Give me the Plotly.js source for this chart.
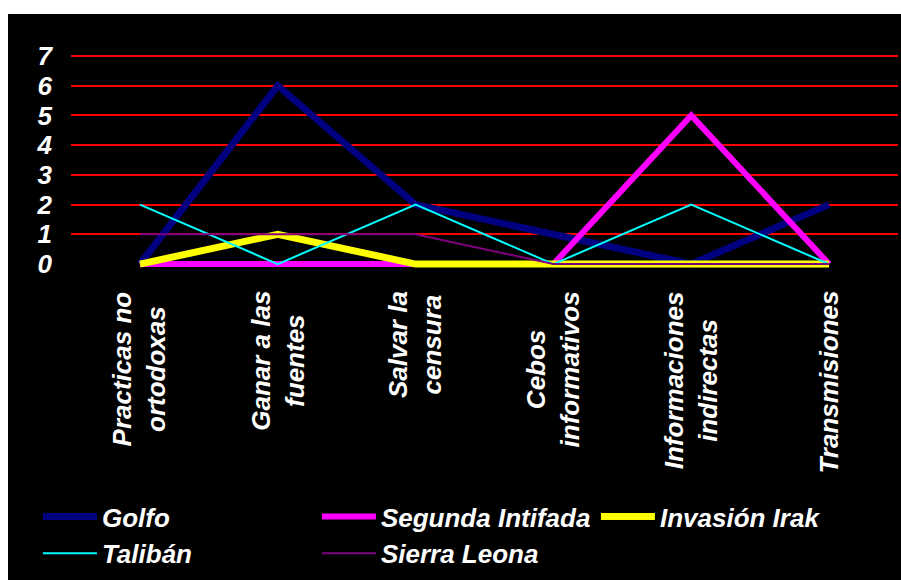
<!DOCTYPE html>
<html>
<head>
<meta charset="utf-8">
<script src="https://cdn.plot.ly/plotly-3.0.1.min.js"></script>
<style>
html,body{margin:0;padding:0;background:#fff;}
#chart{position:absolute;left:8px;top:14px;width:893px;height:566px;}
</style>
</head>
<body>
<div id="chart"></div>
<script>
const categories = ["Practicas no<br>ortodoxas", "Ganar a las<br>fuentes", "Salvar la<br>censura", "Cebos<br>informativos", "Informaciones<br>indirectas", "Transmisiones"];
const seriesNames = ["Golfo", "Segunda Intifada", "Invasión Irak", "Talibán", "Sierra Leona"];
const golfo = [0, 6, 2, 1, 0, 2];
const segundaIntifada = [0, 0, 0, 0, 5, 0];
const invasionIrak = [0, 1, 0, 0, 0, 0];
const taliban = [2, 0, 2, 0, 2, 0];
const sierraLeona = [1, 1, 1, 0, 0, 0];
const yTicks = [0, 1, 2, 3, 4, 5, 6, 7];

const colors = ["#000080", "#FF00FF", "#FFFF00", "#00FFFF", "#800080"];
const widths = [7, 6, 7, 2, 2];
const values = [golfo, segundaIntifada, invasionIrak, taliban, sierraLeona];
const idx = categories.map((_, i) => i);

const font = {family: "'Liberation Sans', Arial, sans-serif", size: 26, color: "#ffffff", weight: "bold", style: "italic"};

const traces = values.map((v, k) => ({
  type: "scatter", mode: "lines", x: idx, y: v, name: seriesNames[k],
  line: {color: colors[k], width: widths[k]}, hoverinfo: "skip"
}));

const annotations = categories.map((c, i) => ({
  x: i, xref: "x", y: -0.0727, yref: "paper", text: c, textangle: -90,
  showarrow: false, xanchor: "center", yanchor: "top", align: "center", font: font
}));

const layout = {
  width: 893, height: 566,
  paper_bgcolor: "#000000", plot_bgcolor: "#000000",
  margin: {l: 63, r: 3, t: 39, b: 307, autoexpand: false},
  showlegend: true,
  xaxis: {range: [-0.5, 5.5], showgrid: false, zeroline: false, showticklabels: false, showline: false, ticks: ""},
  yaxis: {range: [-0.3, 7.1], tickvals: yTicks, ticktext: yTicks.map(String), showgrid: true, gridcolor: "#FF0000", gridwidth: 2,
          zeroline: true, zerolinecolor: "#000000", zerolinewidth: 2, showline: false, ticks: "", ticklabelstandoff: 18, tickfont: font},
  legend: {orientation: "h", x: -0.040, xanchor: "left", y: -1.0, yanchor: "top", font: font,
           itemwidth: 54, entrywidth: 210, entrywidthmode: "pixels", bgcolor: "rgba(0,0,0,0)", traceorder: "normal"},
  annotations: annotations
};

Plotly.newPlot("chart", traces, layout, {displayModeBar: false, staticPlot: true});
</script>
</body>
</html>
